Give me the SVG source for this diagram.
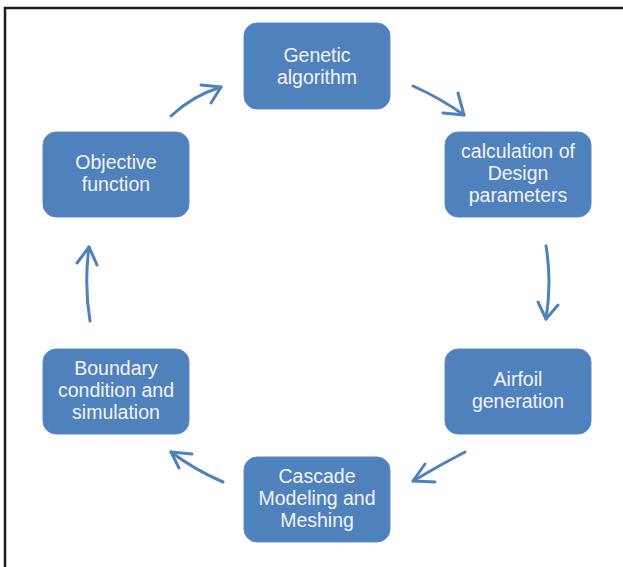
<svg xmlns="http://www.w3.org/2000/svg" width="623" height="567" viewBox="0 0 623 567">
<style>
.box{fill:#4F81BD;stroke:#5A8AC4;stroke-width:1}
.lbl{font-family:"Liberation Sans",Arial,sans-serif;font-size:19.5px;fill:#F2F4F8;text-anchor:middle}
.arr{fill:none;stroke:#4F81BD;stroke-width:3;stroke-linecap:round;stroke-linejoin:round}
</style>
<rect width="623" height="567" fill="#ffffff"/>
<path d="M5,567 V8 H623" fill="none" stroke="#1c1c1c" stroke-width="2.5"/>
<g id="genetic">
<rect class="box" x="244" y="23" width="146" height="86" rx="13"/>
<text class="lbl" x="317" y="61.5">Genetic</text>
<text class="lbl" x="317" y="83.5">algorithm</text>
</g>
<g id="calculation">
<rect class="box" x="445" y="132" width="146" height="85" rx="13"/>
<text class="lbl" x="518" y="158">calculation of</text>
<text class="lbl" x="518" y="180">Design</text>
<text class="lbl" x="518" y="202">parameters</text>
</g>
<g id="airfoil">
<rect class="box" x="445" y="349" width="146" height="85" rx="13"/>
<text class="lbl" x="518" y="386">Airfoil</text>
<text class="lbl" x="518" y="408">generation</text>
</g>
<g id="cascade">
<rect class="box" x="244" y="457" width="146" height="85" rx="13"/>
<text class="lbl" x="317" y="483">Cascade</text>
<text class="lbl" x="317" y="505">Modeling and</text>
<text class="lbl" x="317" y="527">Meshing</text>
</g>
<g id="boundary">
<rect class="box" x="43" y="349" width="146" height="85" rx="13"/>
<text class="lbl" x="116" y="375">Boundary</text>
<text class="lbl" x="116" y="397">condition and</text>
<text class="lbl" x="116" y="419">simulation</text>
</g>
<g id="objective">
<rect class="box" x="43" y="132" width="146" height="85" rx="13"/>
<text class="lbl" x="116" y="169">Objective</text>
<text class="lbl" x="116" y="191">function</text>
</g>
<g id="connectors">
<path class="arr" d="M171,116 Q192,96 221,87"/>
<polyline class="arr" points="201,85 221,87 211,103"/>
<path class="arr" d="M413,86 Q440,98 464,115"/>
<polyline class="arr" points="458,93 464,115 443,113"/>
<path class="arr" d="M546,246 Q552,282 546,319"/>
<polyline class="arr" points="538,302 546,319 558,305"/>
<path class="arr" d="M465,452 Q438,466 413,481"/>
<polyline class="arr" points="425,464 413,481 435,482"/>
<path class="arr" d="M223,482 Q195,470 171,452"/>
<polyline class="arr" points="192,454 171,452 179,468"/>
<path class="arr" d="M90,321 Q84,285 89,247"/>
<polyline class="arr" points="77,263 89,247 97,265"/>
</g>
</svg>
